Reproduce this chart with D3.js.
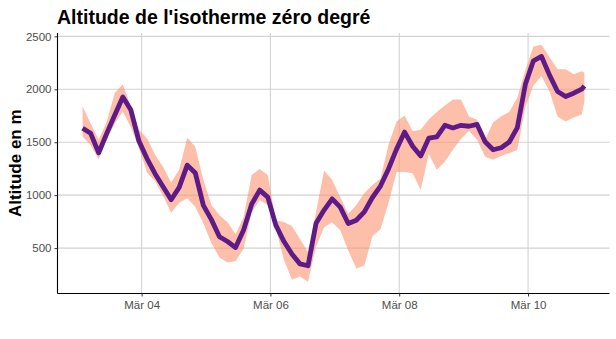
<!DOCTYPE html>
<html><head><meta charset="utf-8">
<script src="https://cdn.jsdelivr.net/npm/d3@7"></script>
<style>body{margin:0;background:#fff}svg{display:block}</style>
</head><body>
<svg id="c" width="616" height="339"></svg>
<script>
// 3-hourly time grid (hours after Mär 03 02:00), last point at 187 h
const hoursOffset = d3.range(0, 187, 3).concat([187]);
const medianAlt = [1633,1584,1400,1584,1757,1928,1804,1511,1346,1203,1080,957,1074,1284,1210,903,769,607,562,505,671,915,1048,982,717,564,444,351,333,734,859,965,887,732,763,842,978,1086,1248,1435,1596,1462,1370,1538,1550,1660,1635,1660,1651,1668,1505,1429,1448,1502,1638,2047,2269,2310,2134,1979,1932,1963,2001,2032];
const upperAlt = [1840,1676,1524,1695,1966,2047,1837,1619,1537,1381,1267,1120,1241,1543,1457,1143,906,811,744,630,792,1191,1248,1191,763,747,709,585,461,840,1234,1143,982,823,906,1020,1096,1156,1476,1695,1752,1604,1619,1714,1785,1847,1904,1904,1742,1713,1524,1688,1745,1785,1923,2180,2405,2420,2303,2189,2189,2142,2170,2156];
const lowerAlt = [1555,1471,1340,1524,1676,1790,1642,1448,1215,1134,991,833,928,972,890,735,549,412,364,376,497,839,953,906,687,393,202,231,183,516,697,744,668,478,307,335,611,678,925,1220,1220,1207,1048,1391,1239,1315,1429,1533,1605,1524,1362,1334,1372,1397,1429,1833,2037,2125,1980,1742,1695,1733,1761,1888];
const yTicks = [500, 1000, 1500, 2000, 2500];
const xTickDays = [4, 6, 8, 10];
const xTickLabels = ["Mär 04", "Mär 06", "Mär 08", "Mär 10"];
const title = "Altitude de l'isotherme zéro degré";
const yTitle = "Altitude en m";

const start = Date.UTC(2021, 2, 3, 2);
const data = hoursOffset.map((h, i) => ({
  t: new Date(start + h * 3600e3), m: medianAlt[i], lo: lowerAlt[i], hi: upperAlt[i]
}));

const svg = d3.select("#c");
const L = 57.5, R = 609.5, T = 33, B = 293.5;
const font = "Liberation Sans, Arial, sans-serif";

const tExt = d3.extent(data, d => d.t);
const tPad = (tExt[1] - tExt[0]) * 0.05;
const x = d3.scaleUtc()
  .domain([new Date(+tExt[0] - tPad), new Date(+tExt[1] + tPad)])
  .range([L, R]);
const yMin = d3.min(lowerAlt), yMax = d3.max(upperAlt);
const yPad = (yMax - yMin) * 0.05;
const y = d3.scaleLinear().domain([yMin - yPad, yMax + yPad]).range([B, T]);

const xTicks = xTickDays.map(d => new Date(Date.UTC(2021, 2, d)));

// grid
const g = svg.append("g");
g.selectAll(".gy").data(yTicks).join("line")
  .attr("x1", L).attr("x2", R).attr("y1", d => y(d)).attr("y2", d => y(d))
  .attr("stroke", "#d2d2d2").attr("stroke-width", 1.1);
g.selectAll(".gx").data(xTicks).join("line")
  .attr("x1", d => x(d)).attr("x2", d => x(d)).attr("y1", T).attr("y2", B)
  .attr("stroke", "#d2d2d2").attr("stroke-width", 1.1);

// ribbon
svg.append("path").datum(data)
  .attr("d", d3.area().x(d => x(d.t)).y0(d => y(d.lo)).y1(d => y(d.hi)))
  .attr("fill", "#FC9272").attr("fill-opacity", 0.6);

// line
svg.append("path").datum(data)
  .attr("d", d3.line().x(d => x(d.t)).y(d => y(d.m)))
  .attr("fill", "none").attr("stroke", "#5e1a86").attr("stroke-width", 4.8)
  .attr("stroke-linejoin", "round").attr("stroke-linecap", "butt");

// axes
const yAxis = d3.axisLeft(y).tickValues(yTicks).tickSize(3).tickPadding(3).tickFormat(d3.format("d"));
const ya = svg.append("g").attr("transform", `translate(${L},0)`).call(yAxis);
ya.select(".domain").attr("d", `M0,${T}V${B}`).attr("stroke", "#000").attr("stroke-width", 1.1);
ya.selectAll(".tick line").attr("stroke", "#333");
ya.selectAll("text").attr("fill", "#4d4d4d").style("font-family", font).style("font-size", "11.5px");

const xAxis = d3.axisBottom(x).tickValues(xTicks).tickSize(3).tickPadding(4)
  .tickFormat((d, i) => xTickLabels[i]);
const xa = svg.append("g").attr("transform", `translate(0,${B})`).call(xAxis);
xa.select(".domain").attr("d", `M${L},0H${R}`).attr("stroke", "#000").attr("stroke-width", 1.1);
xa.selectAll(".tick line").attr("stroke", "#333");
xa.selectAll("text").attr("fill", "#4d4d4d").style("font-family", font).style("font-size", "11.5px");

// titles
svg.append("text").attr("x", 57).attr("y", 24).text(title)
  .style("font-family", font).style("font-weight", "bold")
  .style("font-size", "19.5px").attr("fill", "#000");
svg.append("text").attr("transform", `translate(20.5,${(T + B) / 2}) rotate(-90)`)
  .attr("text-anchor", "middle").text(yTitle)
  .style("font-family", font).style("font-weight", "bold")
  .style("font-size", "17px").attr("fill", "#000");
</script>
</body></html>
